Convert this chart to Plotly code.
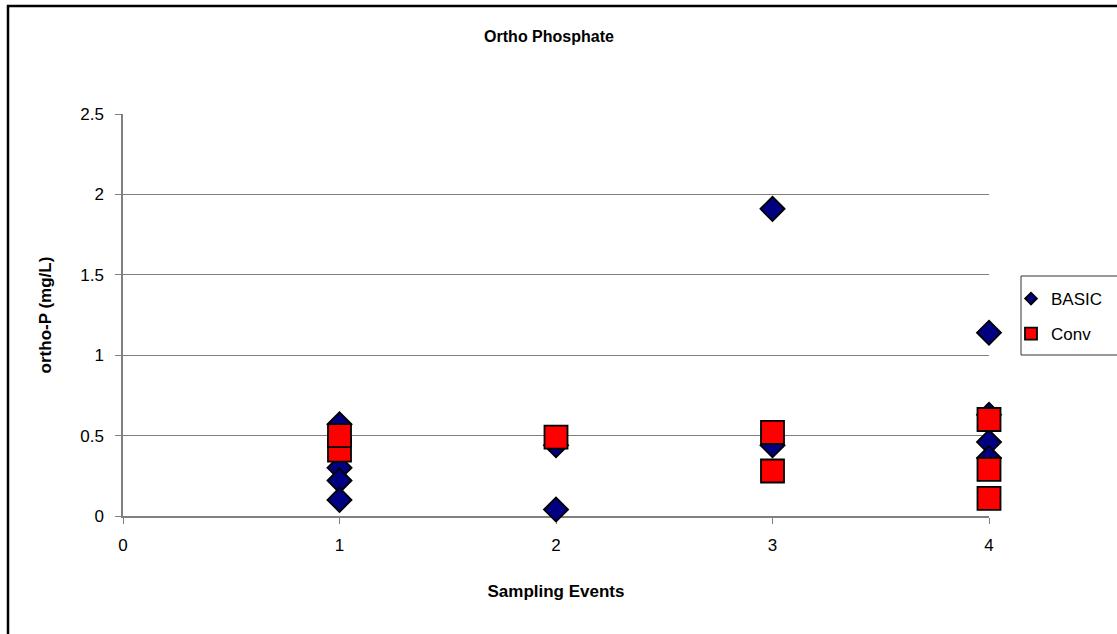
import plotly.graph_objects as go

# Sampling event index for each measurement
basic_event = [1, 1, 1, 1, 2, 2, 3, 3, 4, 4, 4, 4]
basic_orthop = [0.57, 0.30, 0.22, 0.10, 0.44, 0.04, 1.91, 0.44, 1.14, 0.63, 0.46, 0.36]

conv_event = [1, 1, 2, 3, 3, 4, 4, 4]
conv_orthop = [0.41, 0.50, 0.49, 0.52, 0.28, 0.60, 0.29, 0.11]

x_ticks = [0, 1, 2, 3, 4]
y_ticks = [0, 0.5, 1, 1.5, 2, 2.5]
y_tick_text = ["0", "0.5", "1", "1.5", "2", "2.5"]

FONT = "Liberation Sans, Arial, sans-serif"
BASIC_MARKER = dict(symbol="diamond", color="#000080", line=dict(color="#000000", width=1.8))
CONV_MARKER = dict(symbol="square", color="#FF0000", line=dict(color="#000000", width=1.8))

PLOT_W = 1117 - 123 - 128
PLOT_H = 634 - 114 - 118

fig = go.Figure()
fig.add_trace(go.Scatter(
    x=basic_event, y=basic_orthop, mode="markers", name="BASIC",
    showlegend=False, cliponaxis=False,
    marker=dict(size=18.5, **BASIC_MARKER),
))
fig.add_trace(go.Scatter(
    x=conv_event, y=conv_orthop, mode="markers", name="Conv",
    showlegend=False, cliponaxis=False,
    marker=dict(size=23, **CONV_MARKER),
))

# Legend entries with smaller symbols
fig.add_trace(go.Scatter(x=[None], y=[None], mode="markers", name="BASIC",
                         legendgroup="basic", marker=dict(size=9, **BASIC_MARKER)))
fig.add_trace(go.Scatter(x=[None], y=[None], mode="markers", name="Conv",
                         legendgroup="conv", marker=dict(size=12, **CONV_MARKER)))

fig.update_layout(
    width=1117, height=634,
    paper_bgcolor="white", plot_bgcolor="white",
    margin=dict(l=123, r=128, t=114, b=118, autoexpand=False),
    font=dict(family=FONT, size=17, color="#000000"),
    title=dict(text="<b>Ortho Phosphate</b>", x=549 / 1117, xanchor="center",
               y=1 - 36 / 634, yanchor="middle", font=dict(size=16)),
    showlegend=True,
    legend=dict(x=(1011 - 123) / PLOT_W, y=(516 - 281) / PLOT_H,
                xanchor="left", yanchor="top",
                borderwidth=0, bgcolor="rgba(0,0,0,0)",
                font=dict(size=17), tracegroupgap=10, itemwidth=30),
    xaxis=dict(range=[0, 4], tickvals=x_ticks, ticktext=[str(v) for v in x_ticks],
               showgrid=False, zeroline=False, showline=True, linecolor="#808080",
               linewidth=1.5, ticks="outside", ticklen=6, tickcolor="#808080",
               ticklabelstandoff=7, layer="below traces",
               title=dict(text="<b>Sampling Events</b>", font=dict(size=17), standoff=31)),
    yaxis=dict(range=[0, 2.5], tickvals=y_ticks, ticktext=y_tick_text,
               showgrid=True, gridcolor="#808080", gridwidth=1.2, zeroline=False,
               showline=True, linecolor="#808080", linewidth=1.5,
               ticks="outside", ticklen=6, tickcolor="#808080",
               ticklabelstandoff=8, layer="below traces",
               title=dict(text="<b>ortho-P (mg/L)</b>", font=dict(size=17), standoff=24)),
)

# Chart frame (left and top edges fall inside the page)
fig.add_shape(type="rect", xref="paper", yref="paper",
              x0=-115 / PLOT_W, x1=1.5, y0=-0.5, y1=1 + 108 / PLOT_H,
              line=dict(color="#000000", width=2.5), fillcolor="rgba(0,0,0,0)", layer="below")

# Legend box
fig.add_shape(type="rect", xref="paper", yref="paper",
              x0=(1021 - 123) / PLOT_W, x1=(1130 - 123) / PLOT_W,
              y0=(516 - 355) / PLOT_H, y1=(516 - 276) / PLOT_H,
              line=dict(color="#333333", width=1), fillcolor="white", layer="below")

fig.write_html("out.html")
